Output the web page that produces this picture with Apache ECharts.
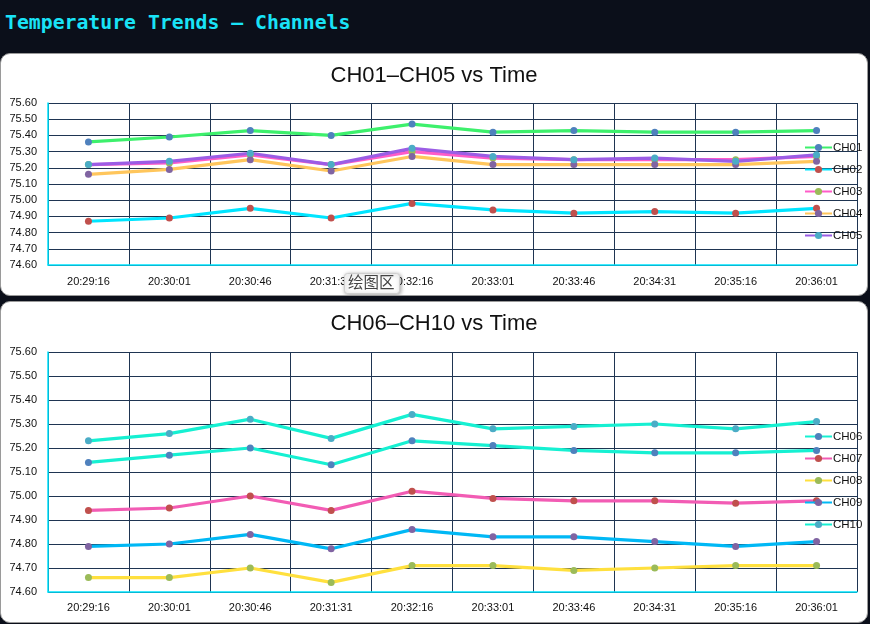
<!DOCTYPE html>
<html>
<head>
<meta charset="utf-8">
<script src="https://cdn.jsdelivr.net/npm/echarts@6/dist/echarts.min.js"></script>
<style>
  html, body { margin:0; padding:0; width:870px; height:624px; background:#0B0F1A; overflow:hidden; }
  #title { position:absolute; left:5px; top:11px; font-family:"DejaVu Sans Mono", monospace; font-weight:bold; font-size:19.8px; color:#19E3F7; white-space:nowrap; }
  .panel { position:absolute; left:0; width:866px; background:#fff; border:1px solid #9a9a9a; border-radius:10px; overflow:hidden; }
  #p1 { top:53px; height:241px; }
  #p2 { top:301px; height:320px; }
  .chart { position:absolute; left:0; top:0; width:866px; height:100%; }
</style>
</head>
<body>
<div id="title">Temperature Trends — Channels</div>
<div class="panel" id="p1"><div class="chart" id="c1"></div></div>
<div class="panel" id="p2"><div class="chart" id="c2"></div></div>
<script>
const times = ["20:29:16","20:30:01","20:30:46","20:31:31","20:32:16","20:33:01","20:33:46","20:34:31","20:35:16","20:36:01"];
const yTicks = [74.6, 75.6, 0.1];

const CH01 = [75.36,75.39,75.43,75.40,75.47,75.42,75.43,75.42,75.42,75.43];
const CH02 = [74.87,74.89,74.95,74.89,74.98,74.94,74.92,74.93,74.92,74.95];
const CH03 = [75.22,75.23,75.28,75.22,75.30,75.26,75.25,75.25,75.25,75.27];
const CH04 = [75.16,75.19,75.25,75.18,75.27,75.22,75.22,75.22,75.22,75.24];
const CH05 = [75.22,75.24,75.29,75.22,75.32,75.27,75.25,75.26,75.24,75.28];

const CH06 = [75.14,75.17,75.20,75.13,75.23,75.21,75.19,75.18,75.18,75.19];
const CH07 = [74.94,74.95,75.00,74.94,75.02,74.99,74.98,74.98,74.97,74.98];
const CH08 = [74.66,74.66,74.70,74.64,74.71,74.71,74.69,74.70,74.71,74.71];
const CH09 = [74.79,74.80,74.84,74.78,74.86,74.83,74.83,74.81,74.79,74.81];
const CH10 = [75.23,75.26,75.32,75.24,75.34,75.28,75.29,75.30,75.28,75.31];

const markerColors = ["#4F81BD","#C0504D","#9BBB59","#8064A2","#4BACC6"];
const lineColors1 = ["#3DF06C","#00E5FF","#FF5CC8","#FFC65C","#9B5DE5"];
const lineColors2 = ["#16F0D2","#F25CB4","#FFE03E","#00B8F5","#16F0D2"];

function makeOption(title, names, datas, lineColors, grid, legendTop, xMargin, extraGraphic) {
  return {
    animation: false,
    title: { text: title, left: 'center', top: 6, textStyle: { fontFamily: 'Liberation Sans', fontSize: 22, fontWeight: 'normal', color: '#111' } },
    grid: grid,
    legend: {
      orient: 'vertical', left: 803, top: legendTop, padding: 0,
      itemWidth: 27, itemHeight: 9, itemGap: 10,
      textStyle: { fontFamily: 'Liberation Sans', fontSize: 11.5, color: '#111', padding: [0,0,0,-4] },
      data: names
    },
    xAxis: {
      type: 'category', data: times, boundaryGap: true,
      axisLine: { lineStyle: { color: '#00E5FF', width: 1.5 } },
      axisTick: { show: false },
      axisLabel: { fontFamily: 'Liberation Sans', fontSize: 11, color: '#111', margin: xMargin, interval: 0 },
      splitLine: { show: true, lineStyle: { color: '#1F3552', width: 1 } }
    },
    yAxis: {
      type: 'value', min: yTicks[0], max: yTicks[1], interval: yTicks[2],
      axisLine: { show: true, lineStyle: { color: '#00E5FF', width: 1.5 } },
      axisTick: { show: false },
      axisLabel: { fontFamily: 'Liberation Sans', fontSize: 11, color: '#111', margin: 11, formatter: v => v.toFixed(2) },
      splitLine: { show: true, lineStyle: { color: '#1F3552', width: 1 } }
    },
    series: names.map((n, i) => ({
      name: n, type: 'line', data: datas[i],
      symbol: 'circle', symbolSize: 7, showSymbol: true,
      lineStyle: { color: lineColors[i], width: 3.2 },
      itemStyle: { color: markerColors[i] }
    })),
    graphic: extraGraphic || []
  };
}

const c1 = echarts.init(document.getElementById('c1'));
c1.setOption(makeOption('CH01–CH05 vs Time', ['CH01','CH02','CH03','CH04','CH05'],
  [CH01,CH02,CH03,CH04,CH05], lineColors1,
  { left: 47, top: 49, width: 809, height: 162 }, 87.5, 11,
  [
    { type: 'rect', left: 343, top: 219, z: 100, shape: { width: 55, height: 20, r: 3 },
      style: { fill: '#fdfdfd', stroke: '#cfcfcf', lineWidth: 1, shadowBlur: 4, shadowColor: 'rgba(0,0,0,0.35)', shadowOffsetX: 1, shadowOffsetY: 1 } },
    { type: 'text', left: 347, top: 220, z: 101,
      style: { text: '绘图区', fontFamily: 'Noto Sans CJK SC', fontSize: 15.5, fill: '#444' } }
  ]));

const c2 = echarts.init(document.getElementById('c2'));
c2.setOption(makeOption('CH06–CH10 vs Time', ['CH06','CH07','CH08','CH09','CH10'],
  [CH06,CH07,CH08,CH09,CH10], lineColors2,
  { left: 47, top: 50, width: 809, height: 240 }, 128.5, 10));
</script>
</body>
</html>
